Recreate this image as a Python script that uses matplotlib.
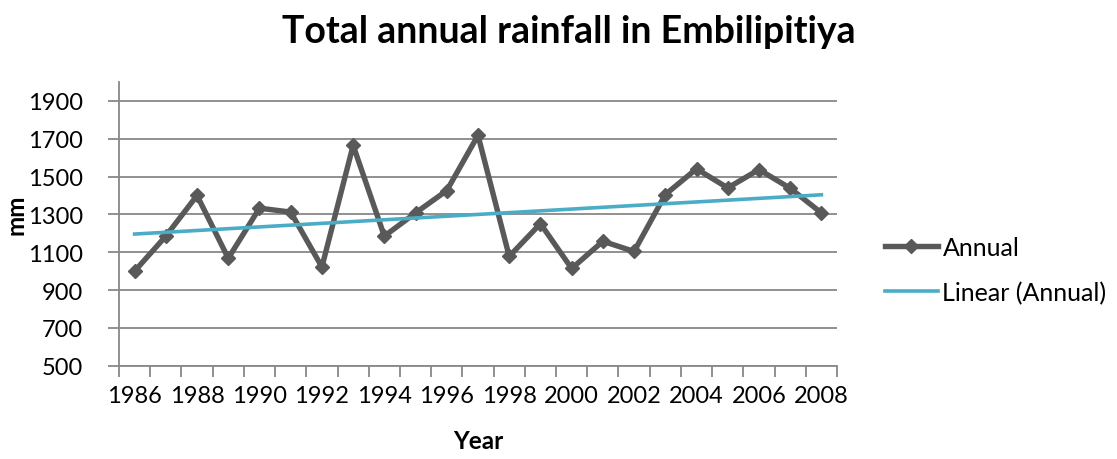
import numpy as np
import matplotlib
matplotlib.use("Agg")
import matplotlib.pyplot as plt
from matplotlib.ticker import FixedLocator, NullFormatter

plt.rcParams["font.family"] = ["Lato", "DejaVu Sans"]

# Annual rainfall totals (mm)
years = list(range(1986, 2009))
annual = [1000, 1185, 1400, 1068, 1333, 1312, 1022, 1665, 1185, 1308, 1426, 1718,
          1078, 1251, 1014, 1158, 1104, 1405, 1541, 1440, 1537, 1438, 1308]
y_ticks = [500, 700, 900, 1100, 1300, 1500, 1700, 1900]

GRID = "#888888"
LINE = "#595959"
TREND = "#4BACC6"

fig = plt.figure(figsize=(11.17, 4.60), dpi=100)
ax = fig.add_axes([119 / 1117, 1 - 366.7 / 460, (837 - 119) / 1117, (366.7 - 83) / 460])

x = np.arange(len(years))
ax.plot(x, annual, color=LINE, lw=3.9, marker="D", markersize=7.5,
        markerfacecolor=LINE, markeredgecolor=LINE, label="Annual", zorder=3)

# least-squares linear trend of the annual totals
coef = np.polyfit(x, annual, 1)
ax.plot(x, np.polyval(coef, x), color=TREND, lw=2.6, label="Linear (Annual)", zorder=4)

ax.set_xlim(-0.5, len(years) - 0.5)
ax.set_ylim(500, 2000)

ax.set_yticks(y_ticks)
ax.yaxis.grid(True, color=GRID, lw=1.3)
ax.set_axisbelow(True)
ax.tick_params(axis="y", direction="out", length=8, width=1.3, color=GRID,
               labelsize=17, pad=18, labelcolor="black")

# category labels every second year, tick marks between every category
ax.set_xticks(x[::2])
ax.set_xticklabels([str(v) for v in years[::2]])
ax.tick_params(axis="x", which="major", length=0, labelsize=17, pad=14)
ax.xaxis.set_minor_locator(FixedLocator(np.arange(-0.5, len(years), 1.0)))
ax.xaxis.set_minor_formatter(NullFormatter())
ax.tick_params(axis="x", which="minor", direction="out", length=8, width=1.3, color=GRID)

for s in ("top", "right"):
    ax.spines[s].set_visible(False)
for s in ("left", "bottom"):
    ax.spines[s].set_color(GRID)
    ax.spines[s].set_linewidth(1.3)

fig.text(569 / 1117, 1 - 32 / 460, "Total annual rainfall in Embilipitiya",
         ha="center", va="center", fontsize=27, fontweight="bold")
fig.text(478 / 1117, 1 - 442 / 460, "Year", ha="center", va="center",
         fontsize=17.5, fontweight="bold")
fig.text(16 / 1117, 1 - 215 / 460, "mm", ha="center", va="center",
         fontsize=17.5, fontweight="bold", rotation=90)

fig.legend(loc="center left", bbox_to_anchor=(885 / 1117, 1 - 271 / 460),
           frameon=False, fontsize=18, handlelength=2.1, handletextpad=0.2,
           labelspacing=0.88, borderaxespad=0, borderpad=0)

fig.savefig("out.png", dpi=100)
